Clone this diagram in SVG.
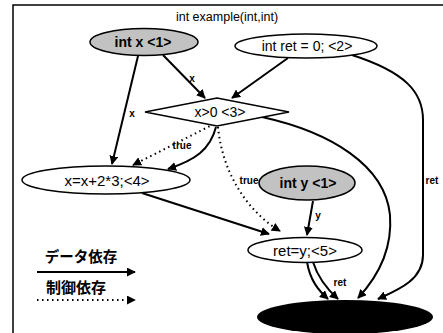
<svg xmlns="http://www.w3.org/2000/svg" width="443" height="333" viewBox="0 0 443 333">
<style>
text{font-family:"Liberation Sans","Noto Sans CJK JP",sans-serif;fill:#000;text-anchor:middle;dominant-baseline:central}
.node{stroke:#000;stroke-width:1.5}
.white{fill:#fff}
.gray{fill:#c2c2c2}
.e{fill:none;stroke:#000;stroke-width:2}
.d{fill:none;stroke:#000;stroke-width:2;stroke-dasharray:1.5 3.5}
.lbl{font-size:10px;font-weight:bold}
.nt{font-size:14px}
.bt{font-size:14px;font-weight:bold}
</style>
<defs>
<marker id="ah" viewBox="0 0 10 10" refX="9" refY="5" markerWidth="4.5" markerHeight="4.5" orient="auto" markerUnits="strokeWidth">
<path d="M0,0 L10,5 L0,10 z" fill="#000"/>
</marker>
</defs>
<rect x="0" y="0" width="443" height="333" fill="#fff"/>
<g id="frame">
<path d="M13,333 L13,5 L443,5" fill="none" stroke="#000" stroke-width="1.5"/>
<text x="227" y="17" style="font-size:12.5px">int example(int,int)</text>
</g>
<g id="connectors">
<path class="e" d="M138,56 L112,164" marker-end="url(#ah)"/>
<path class="e" d="M163,55 L205,98" marker-end="url(#ah)"/>
<path class="e" d="M288,58 L232,98" marker-end="url(#ah)"/>
<path class="e" d="M352,55 C405,72 423,92 423,120 L423,255 C423,280 398,290 378,299" marker-end="url(#ah)"/>
<path class="d" d="M214,124 L133,165" marker-end="url(#ah)"/>
<path class="e" d="M216,127 C210,150 195,160 168,169" marker-end="url(#ah)"/>
<path class="d" d="M218,127 C222,170 245,210 280,231" marker-end="url(#ah)"/>
<path class="e" d="M262,117 C330,132 385,165 390,215 C393,255 372,283 358,298" marker-end="url(#ah)"/>
<path class="e" d="M142,193 L269,234" marker-end="url(#ah)"/>
<path class="e" d="M313,201 L307,235" marker-end="url(#ah)"/>
<path class="e" d="M307,262 C310,280 318,290 328,299" marker-end="url(#ah)"/>
<path class="e" d="M313,262 C318,278 328,290 338,299" marker-end="url(#ah)"/>
<text class="lbl" x="132" y="113">x</text>
<text class="lbl" x="192" y="78">x</text>
<text class="lbl" x="182" y="145">true</text>
<text class="lbl" x="249" y="180">true</text>
<text class="lbl" x="318" y="215">y</text>
<text class="lbl" x="340" y="282">ret</text>
<text class="lbl" x="432" y="180">ret</text>
</g>
<g id="n1x">
<ellipse class="node gray" cx="144" cy="42" rx="54" ry="13.5"/>
<text class="bt" x="143" y="42">int  x &lt;1&gt;</text>
</g>
<g id="n2">
<ellipse class="node white" cx="306" cy="46" rx="71" ry="12"/>
<text class="nt" x="307" y="46">int ret = 0; &lt;2&gt;</text>
</g>
<g id="n3">
<polygon class="node white" points="145,112 217,98 289,112 217,126"/>
<text class="nt" x="220" y="112">x&gt;0 &lt;3&gt;</text>
</g>
<g id="n4">
<ellipse class="node white" cx="106" cy="180" rx="84" ry="14"/>
<text class="nt" x="107" y="180" style="font-size:15px">x=x+2*3;&lt;4&gt;</text>
</g>
<g id="n1y">
<ellipse class="node gray" cx="307" cy="183" rx="48" ry="17"/>
<text class="bt" x="308" y="183">int  y &lt;1&gt;</text>
</g>
<g id="n5">
<ellipse class="node white" cx="305" cy="250" rx="57" ry="12.5"/>
<text class="nt" x="305" y="250" style="font-size:15px">ret=y;&lt;5&gt;</text>
</g>
<g id="sink">
<ellipse cx="345" cy="317" rx="88" ry="17" fill="#000"/>
</g>
<g id="legend">
<text class="bt" x="81" y="257" style="font-size:14.5px">データ依存</text>
<path class="e" d="M37,272 L135,272" stroke-width="1.5" marker-end="url(#ah)"/>
<text class="bt" x="76" y="287" style="font-size:15px">制御依存</text>
<path class="d" d="M37,300 L135,300" stroke-width="1.5" marker-end="url(#ah)"/>
</g>
</svg>
